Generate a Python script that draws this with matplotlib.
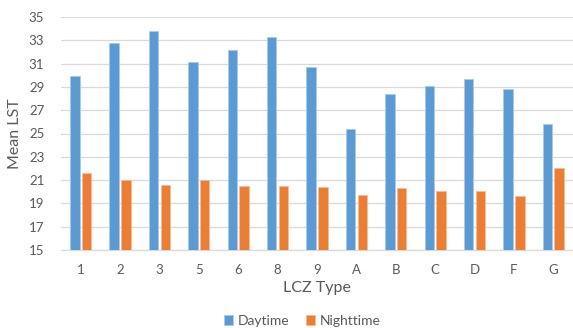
import matplotlib
matplotlib.use("Agg")
import matplotlib.pyplot as plt
import numpy as np

categories = ["1", "2", "3", "5", "6", "8", "9", "A", "B", "C", "D", "F", "G"]
daytime = [29.9, 32.8, 33.8, 31.1, 32.2, 33.3, 30.7, 25.4, 28.4, 29.1, 29.7, 28.8, 25.8]
nighttime = [21.6, 21.0, 20.6, 21.0, 20.5, 20.5, 20.4, 19.7, 20.3, 20.1, 20.1, 19.6, 22.0]
yticks = [15, 17, 19, 21, 23, 25, 27, 29, 31, 33, 35]

plt.rcParams['font.family'] = ['Lato', 'DejaVu Sans']

fig = plt.figure(figsize=(5.73, 3.28), dpi=100)
ax = fig.add_axes([61/573, 1 - 250/328, (573 - 61)/573, (250 - 17)/328])

x = np.arange(len(categories))
w = 0.24
off = 0.15
ax.bar(x - off, daytime, width=w, color="#5B9BD5", edgecolor="#A9CBEA", linewidth=0.6,
       label="Daytime", zorder=3)
ax.bar(x + off, nighttime, width=w, color="#ED7D31", edgecolor="#F6BC98", linewidth=0.6,
       label="Nighttime", zorder=3)

ax.set_ylim(15, 35)
ax.set_xlim(-0.5, len(categories) - 0.5)
ax.set_yticks(yticks)
ax.set_xticks(x)
ax.set_xticklabels(categories)
ax.yaxis.grid(True, color="#D9D9D9", linewidth=0.9, zorder=0)
ax.set_axisbelow(True)
for s in ["top", "right", "left"]:
    ax.spines[s].set_visible(False)
ax.spines["bottom"].set_color("#D9D9D9")
ax.spines["bottom"].set_linewidth(0.9)
ax.tick_params(axis="both", length=0, colors="#595959", labelsize=9.5)
ax.tick_params(axis="y", pad=12)
ax.tick_params(axis="x", pad=10)

ax.set_ylabel("Mean LST", fontsize=11.5, color="#595959", labelpad=5)
ax.set_xlabel("LCZ Type", fontsize=11.5, color="#595959", labelpad=4)

leg = fig.legend(loc="center", bbox_to_anchor=(302/573, 1 - 321/328), ncol=2, frameon=False,
                 fontsize=10, handlelength=0.7, handleheight=0.7, handletextpad=0.3,
                 columnspacing=1.2, labelcolor="#595959")

fig.savefig("out.png", dpi=100)
